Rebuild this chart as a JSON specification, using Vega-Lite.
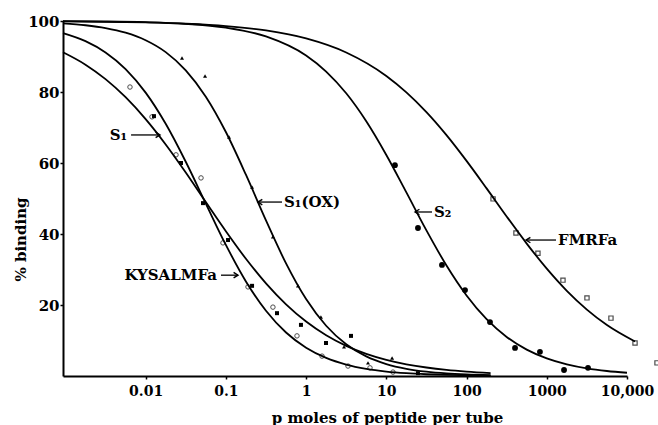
{
  "$schema": "https://vega.github.io/schema/vega-lite/v6.json",
  "autosize": "none",
  "width": 564,
  "height": 355,
  "padding": {"left": 63, "top": 21, "right": 31, "bottom": 49},
  "background": "white",
  "config": {
    "view": {"stroke": null},
    "font": "DejaVu Serif"
  },
  "datasets": {
    "curves": [
      {"c": "S1", "x": 0.000933, "y": 91.19}, {"c": "S1", "x": 0.001778, "y": 87.70}, {"c": "S1", "x": 0.003162, "y": 83.62}, {"c": "S1", "x": 0.005623, "y": 78.53},
      {"c": "S1", "x": 0.01, "y": 72.36}, {"c": "S1", "x": 0.01778, "y": 65.22}, {"c": "S1", "x": 0.03162, "y": 57.32}, {"c": "S1", "x": 0.05623, "y": 49.00},
      {"c": "S1", "x": 0.1, "y": 40.78}, {"c": "S1", "x": 0.1778, "y": 33.02}, {"c": "S1", "x": 0.3162, "y": 26.10}, {"c": "S1", "x": 0.5623, "y": 20.19},
      {"c": "S1", "x": 1, "y": 15.34}, {"c": "S1", "x": 1.778, "y": 11.48}, {"c": "S1", "x": 3.162, "y": 8.50}, {"c": "S1", "x": 5.623, "y": 6.24},
      {"c": "S1", "x": 10, "y": 4.55}, {"c": "S1", "x": 17.78, "y": 3.30}, {"c": "S1", "x": 31.62, "y": 2.39}, {"c": "S1", "x": 56.23, "y": 1.72},
      {"c": "S1", "x": 100, "y": 1.24}, {"c": "S1", "x": 199.5, "y": 0.83},
      {"c": "KY", "x": 0.000933, "y": 96.59}, {"c": "KY", "x": 0.001778, "y": 94.32}, {"c": "KY", "x": 0.003162, "y": 91.15}, {"c": "KY", "x": 0.005623, "y": 86.46},
      {"c": "KY", "x": 0.01, "y": 79.83}, {"c": "KY", "x": 0.01778, "y": 71.05}, {"c": "KY", "x": 0.03162, "y": 60.36}, {"c": "KY", "x": 0.05623, "y": 48.57},
      {"c": "KY", "x": 0.1, "y": 36.93}, {"c": "KY", "x": 0.1778, "y": 26.64}, {"c": "KY", "x": 0.3162, "y": 18.38}, {"c": "KY", "x": 0.5623, "y": 12.25},
      {"c": "KY", "x": 1, "y": 7.97}, {"c": "KY", "x": 1.778, "y": 5.10}, {"c": "KY", "x": 3.162, "y": 3.22}, {"c": "KY", "x": 5.623, "y": 2.02},
      {"c": "KY", "x": 10, "y": 1.26}, {"c": "KY", "x": 17.78, "y": 0.79}, {"c": "KY", "x": 31.62, "y": 0.49}, {"c": "KY", "x": 56.23, "y": 0.30},
      {"c": "KY", "x": 100, "y": 0.19}, {"c": "KY", "x": 199.5, "y": 0.11},
      {"c": "OX", "x": 0.000933, "y": 99.33}, {"c": "OX", "x": 0.001778, "y": 98.80}, {"c": "OX", "x": 0.003162, "y": 98.01}, {"c": "OX", "x": 0.005623, "y": 96.70},
      {"c": "OX", "x": 0.01, "y": 94.58}, {"c": "OX", "x": 0.01778, "y": 91.23}, {"c": "OX", "x": 0.03162, "y": 86.10}, {"c": "OX", "x": 0.05623, "y": 78.68},
      {"c": "OX", "x": 0.1, "y": 68.73}, {"c": "OX", "x": 0.1778, "y": 56.70}, {"c": "OX", "x": 0.3162, "y": 43.82}, {"c": "OX", "x": 0.5623, "y": 31.72},
      {"c": "OX", "x": 1, "y": 21.67}, {"c": "OX", "x": 1.778, "y": 14.15}, {"c": "OX", "x": 3.162, "y": 8.94}, {"c": "OX", "x": 5.623, "y": 5.52},
      {"c": "OX", "x": 10, "y": 3.37}, {"c": "OX", "x": 17.78, "y": 2.03}, {"c": "OX", "x": 31.62, "y": 1.22}, {"c": "OX", "x": 56.23, "y": 0.73},
      {"c": "OX", "x": 100, "y": 0.44}, {"c": "OX", "x": 199.5, "y": 0.23},
      {"c": "S2", "x": 0.000933, "y": 99.94}, {"c": "S2", "x": 0.003162, "y": 99.86}, {"c": "S2", "x": 0.01, "y": 99.66}, {"c": "S2", "x": 0.03162, "y": 99.20},
      {"c": "S2", "x": 0.1, "y": 98.12}, {"c": "S2", "x": 0.3162, "y": 95.65}, {"c": "S2", "x": 1, "y": 90.27}, {"c": "S2", "x": 1.778, "y": 85.76},
      {"c": "S2", "x": 3.162, "y": 79.64}, {"c": "S2", "x": 5.623, "y": 71.76}, {"c": "S2", "x": 10, "y": 62.27}, {"c": "S2", "x": 17.78, "y": 51.72},
      {"c": "S2", "x": 31.62, "y": 41.03}, {"c": "S2", "x": 56.23, "y": 31.12}, {"c": "S2", "x": 100, "y": 22.69}, {"c": "S2", "x": 177.8, "y": 16.01},
      {"c": "S2", "x": 316.2, "y": 11.01}, {"c": "S2", "x": 562.3, "y": 7.43}, {"c": "S2", "x": 1000, "y": 4.96}, {"c": "S2", "x": 1778, "y": 3.28},
      {"c": "S2", "x": 3162, "y": 2.15}, {"c": "S2", "x": 5623, "y": 1.41}, {"c": "S2", "x": 10000, "y": 0.92},
      {"c": "FM", "x": 0.000933, "y": 99.89}, {"c": "FM", "x": 0.003162, "y": 99.78}, {"c": "FM", "x": 0.01, "y": 99.59}, {"c": "FM", "x": 0.03162, "y": 99.23},
      {"c": "FM", "x": 0.1, "y": 98.57}, {"c": "FM", "x": 0.3162, "y": 97.33}, {"c": "FM", "x": 1, "y": 95.09}, {"c": "FM", "x": 3.162, "y": 91.13},
      {"c": "FM", "x": 10, "y": 84.52}, {"c": "FM", "x": 17.78, "y": 79.90}, {"c": "FM", "x": 31.62, "y": 74.34}, {"c": "FM", "x": 56.23, "y": 67.86},
      {"c": "FM", "x": 100, "y": 60.60}, {"c": "FM", "x": 177.8, "y": 52.85}, {"c": "FM", "x": 316.2, "y": 44.94}, {"c": "FM", "x": 562.3, "y": 37.30},
      {"c": "FM", "x": 1000, "y": 30.24}, {"c": "FM", "x": 1778, "y": 24.00}, {"c": "FM", "x": 3162, "y": 18.71}, {"c": "FM", "x": 5623, "y": 14.36},
      {"c": "FM", "x": 12590, "y": 9.72}
    ],
    "points": [
      {"s": "KY", "x": 0.00638, "y": 81.4}, {"s": "KY", "x": 0.0120, "y": 73.0}, {"s": "KY", "x": 0.0239, "y": 62.3}, {"s": "KY", "x": 0.0490, "y": 55.8},
      {"s": "KY", "x": 0.0920, "y": 37.5}, {"s": "KY", "x": 0.1888, "y": 25.1}, {"s": "KY", "x": 0.386, "y": 19.4}, {"s": "KY", "x": 0.770, "y": 11.3},
      {"s": "KY", "x": 1.58, "y": 5.6}, {"s": "KY", "x": 3.33, "y": 2.8}, {"s": "KY", "x": 6.26, "y": 2.3}, {"s": "KY", "x": 12.1, "y": 1.1},
      {"s": "S1", "x": 0.0127, "y": 73.2}, {"s": "S1", "x": 0.0276, "y": 60.0}, {"s": "S1", "x": 0.0519, "y": 48.7}, {"s": "S1", "x": 0.1064, "y": 38.3},
      {"s": "S1", "x": 0.212, "y": 25.4}, {"s": "S1", "x": 0.434, "y": 17.7}, {"s": "S1", "x": 0.863, "y": 14.4}, {"s": "S1", "x": 1.77, "y": 9.3},
      {"s": "S1", "x": 3.63, "y": 11.3}, {"s": "S1", "x": 24.8, "y": 0.8},
      {"s": "OX", "x": 0.0284, "y": 89.6}, {"s": "OX", "x": 0.0550, "y": 84.5}, {"s": "OX", "x": 0.1094, "y": 67.3}, {"s": "OX", "x": 0.212, "y": 53.2},
      {"s": "OX", "x": 0.386, "y": 39.2}, {"s": "OX", "x": 0.792, "y": 25.4}, {"s": "OX", "x": 1.53, "y": 16.6}, {"s": "OX", "x": 2.97, "y": 8.2},
      {"s": "OX", "x": 5.91, "y": 3.7}, {"s": "OX", "x": 11.8, "y": 5.1},
      {"s": "S2", "x": 12.8, "y": 59.4}, {"s": "S2", "x": 24.8, "y": 41.7}, {"s": "S2", "x": 49.4, "y": 31.3}, {"s": "S2", "x": 95.7, "y": 24.2},
      {"s": "S2", "x": 196, "y": 15.2}, {"s": "S2", "x": 402, "y": 7.9}, {"s": "S2", "x": 822, "y": 6.8}, {"s": "S2", "x": 1641, "y": 1.7},
      {"s": "S2", "x": 3266, "y": 2.3},
      {"s": "FM", "x": 214, "y": 49.9}, {"s": "FM", "x": 413, "y": 40.3}, {"s": "FM", "x": 776, "y": 34.6}, {"s": "FM", "x": 1592, "y": 27.0},
      {"s": "FM", "x": 3170, "y": 22.0}, {"s": "FM", "x": 6310, "y": 16.3}, {"s": "FM", "x": 12590, "y": 9.3}, {"s": "FM", "x": 23660, "y": 3.7}
    ],
    "arrows": [
      {"t": "S₁", "tail": 0.00658, "tip": 0.0151, "ty": 0.00621, "y": 67.9, "dir": "right"},
      {"t": "KYSALMFa", "tail": 0.0869, "tip": 0.1416, "ty": 0.0820, "y": 28.4, "dir": "right"},
      {"t": "S₁(OX)", "tail": 0.501, "tip": 0.251, "ty": 0.531, "y": 49.0, "dir": "left"},
      {"t": "S₂", "tail": 37.1, "tip": 22.8, "ty": 39.3, "y": 46.2, "dir": "left"},
      {"t": "FMRFa", "tail": 1303, "tip": 551, "ty": 1380, "y": 38.3, "dir": "left"}
    ]
  },
  "layer": [
    {
      "data": {"name": "curves"},
      "mark": {"type": "line", "color": "black", "strokeWidth": 1.8, "interpolate": "monotone"},
      "encoding": {
        "x": {
          "field": "x", "type": "quantitative",
          "scale": {"type": "log", "domain": [0.000933, 10000], "nice": false},
          "axis": {
            "values": [0.01, 0.1, 1, 10, 100, 1000, 10000],
            "labelExpr": "datum.value < 0.05 ? '0.01' : datum.value < 0.5 ? '0.1' : datum.value < 5 ? '1' : datum.value < 50 ? '10' : datum.value < 500 ? '100' : datum.value < 5000 ? '1000' : '10,000'",
            "grid": false, "labelFlush": false, "labelOverlap": false,
            "labelFont": "DejaVu Serif", "labelFontWeight": "bold", "labelFontSize": 14, "labelColor": "black",
            "labelPadding": 5,
            "domainColor": "black", "domainWidth": 2, "tickColor": "black", "tickSize": 3, "tickWidth": 1.5,
            "title": "p moles of peptide per tube",
            "titleFont": "DejaVu Serif", "titleFontWeight": "bold", "titleFontSize": 15, "titleColor": "black",
            "titleX": 324, "titleY": 41, "titleAlign": "center", "titleBaseline": "middle"
          }
        },
        "y": {
          "field": "y", "type": "quantitative",
          "scale": {"domain": [0, 100], "nice": false},
          "axis": {
            "values": [20, 40, 60, 80, 100],
            "grid": false, "labelFlush": false,
            "labelFont": "DejaVu Serif", "labelFontWeight": "bold", "labelFontSize": 15, "labelColor": "black",
            "labelPadding": 1,
            "domainColor": "black", "domainWidth": 2, "tickColor": "black", "tickSize": 3, "tickWidth": 1.5,
            "title": "% binding",
            "titleFont": "DejaVu Serif", "titleFontWeight": "bold", "titleFontSize": 15, "titleColor": "black",
            "titleX": -43, "titleY": 218, "titleAngle": -90, "titleAlign": "center", "titleBaseline": "middle"
          }
        },
        "detail": {"field": "c"}
      }
    },
    {
      "data": {"name": "points"},
      "transform": [{"filter": "datum.s == 'KY'"}],
      "mark": {"type": "point", "shape": "circle", "filled": false, "stroke": "black", "strokeWidth": 1, "size": 20},
      "encoding": {"x": {"field": "x", "type": "quantitative"}, "y": {"field": "y", "type": "quantitative"}}
    },
    {
      "data": {"name": "points"},
      "transform": [{"filter": "datum.s == 'S1'"}],
      "mark": {"type": "point", "shape": "square", "filled": true, "fill": "black", "size": 16, "opacity": 1},
      "encoding": {"x": {"field": "x", "type": "quantitative"}, "y": {"field": "y", "type": "quantitative"}}
    },
    {
      "data": {"name": "points"},
      "transform": [{"filter": "datum.s == 'OX'"}],
      "mark": {"type": "point", "shape": "triangle-up", "filled": true, "fill": "black", "size": 16, "opacity": 1},
      "encoding": {"x": {"field": "x", "type": "quantitative"}, "y": {"field": "y", "type": "quantitative"}}
    },
    {
      "data": {"name": "points"},
      "transform": [{"filter": "datum.s == 'S2'"}],
      "mark": {"type": "point", "shape": "circle", "filled": true, "fill": "black", "size": 34, "opacity": 1},
      "encoding": {"x": {"field": "x", "type": "quantitative"}, "y": {"field": "y", "type": "quantitative"}}
    },
    {
      "data": {"name": "points"},
      "transform": [{"filter": "datum.s == 'FM'"}],
      "mark": {"type": "point", "shape": "square", "filled": false, "stroke": "black", "strokeWidth": 1.2, "size": 18},
      "encoding": {"x": {"field": "x", "type": "quantitative"}, "y": {"field": "y", "type": "quantitative"}}
    },
    {
      "data": {"name": "arrows"},
      "mark": {"type": "rule", "color": "black", "strokeWidth": 1.3},
      "encoding": {
        "x": {"field": "tail", "type": "quantitative"},
        "x2": {"field": "tip"},
        "y": {"field": "y", "type": "quantitative"}
      }
    },
    {
      "data": {"name": "arrows"},
      "transform": [{"filter": "datum.dir == 'right'"}],
      "mark": {"type": "point", "shape": "M-1.6,-1L0,0L-1.6,1", "filled": false, "stroke": "black", "strokeWidth": 1.4, "size": 30, "opacity": 1},
      "encoding": {"x": {"field": "tip", "type": "quantitative"}, "y": {"field": "y", "type": "quantitative"}}
    },
    {
      "data": {"name": "arrows"},
      "transform": [{"filter": "datum.dir == 'left'"}],
      "mark": {"type": "point", "shape": "M1.6,-1L0,0L1.6,1", "filled": false, "stroke": "black", "strokeWidth": 1.4, "size": 30, "opacity": 1},
      "encoding": {"x": {"field": "tip", "type": "quantitative"}, "y": {"field": "y", "type": "quantitative"}}
    },
    {
      "data": {"name": "arrows"},
      "transform": [{"filter": "datum.dir == 'right'"}],
      "mark": {"type": "text", "align": "right", "baseline": "middle", "font": "DejaVu Serif", "fontWeight": "bold", "fontSize": 15, "color": "black", "dx": -2},
      "encoding": {"x": {"field": "ty", "type": "quantitative"}, "y": {"field": "y", "type": "quantitative"}, "text": {"field": "t"}}
    },
    {
      "data": {"name": "arrows"},
      "transform": [{"filter": "datum.dir == 'left'"}],
      "mark": {"type": "text", "align": "left", "baseline": "middle", "font": "DejaVu Serif", "fontWeight": "bold", "fontSize": 15, "color": "black"},
      "encoding": {"x": {"field": "ty", "type": "quantitative"}, "y": {"field": "y", "type": "quantitative"}, "text": {"field": "t"}}
    }
  ]
}
